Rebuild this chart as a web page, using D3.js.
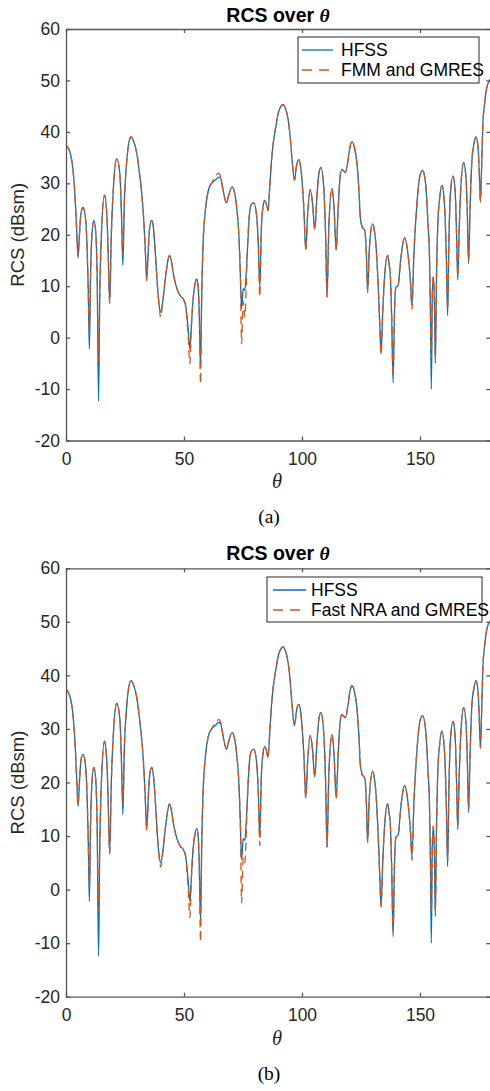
<!DOCTYPE html>
<html lang="en">
<head>
<meta charset="utf-8">
<title>RCS over theta</title>
<style>
body { margin: 0; background: #fff; }
svg { display: block; }
.tick text { font-family: "Liberation Sans", Arial, sans-serif; font-size: 17.5px; fill: #262626; }
</style>
</head>
<body>
<div id="app"></div>
<script src="https://d3js.org/d3.v7.min.js"></script>
<script>
// angle grid (deg)
const theta = [0,1,2,3,4,4.6,5.1,5.7,6.3,7.2,8.2,8.9,9.4,9.9,10.4,11,11.8,12.6,13.2,13.8,14.3,15,16.3,17.3,17.9,18.5,19.2,20.2,21.5,22.8,23.5,24.1,24.7,25.6,26.5,27.5,28.8,30,31,32.1,33,33.6,34.2,34.9,35.5,36.3,37,37.7,38.6,39.4,40.1,41,42,43,43.8,44.6,45.5,46.5,47.6,48.6,49.7,50.7,51.3,51.8,52.5,53.1,53.7,54.5,55.4,56,56.5,57,57.5,58.2,58.9,60.3,61.7,62.8,63.8,64.7,65.5,66.6,68,69,70.4,71.5,72.3,73.3,73.9,74.4,75.1,75.8,76.3,76.8,77.9,78.7,79.6,80.7,81.5,82.1,82.8,83.5,84.2,84.9,85.6,86.3,87,88,88.7,90.1,91,92,92.8,93.6,94.4,95,95.8,96.8,97.7,98.6,99.3,100,100.8,101.6,102.4,103.5,104.5,105.4,106.4,107.2,108,109.2,110,110.6,111.4,112.7,113.6,114.5,115.3,116.2,116.9,117.6,118.4,119.5,120.3,121.2,122.2,123.3,124.2,124.7,125.5,126.6,127.3,127.8,128.5,129.9,130.6,131.4,132.3,133,133.5,134.2,135.2,136.3,137,137.4,138,138.6,139.2,139.8,140.7,141.8,142.6,143.5,144.4,145.2,146,146.6,147.4,148.7,150,151.1,152,152.5,153.4,154,154.4,154.8,155.2,155.6,156.1,156.5,157,157.5,158.3,159.3,160.1,160.7,161.2,161.7,162.3,162.9,164,164.9,165.5,166,166.6,167.4,168.5,169.5,170,170.6,171.2,172,172.8,173.7,174.6,175.2,175.6,176.1,176.6,177.5,178.4,180];

// HFSS reference (dBsm)
const hfss = [37.4,36.8,35.5,32.5,26,20,15.5,20,24,25.3,23.5,18,10,-2.2,12,20,22.8,20.5,12,-12.4,8,20,27.7,24,16,6.7,20,30,34.8,32,24,14,26,33.5,37.5,39,38,35.8,32.5,28,22.5,17,11.1,17.5,21.5,22.8,21.5,17.6,11,6.5,5,7,11.1,14.5,16,15,12.4,10.3,8.8,8,7.5,6.2,4,1.4,-2.2,2,6.6,10,11.4,10,4,-5.8,8,19.5,24,28.6,30,30.5,30.9,31.2,31,28.6,26.2,27.8,29.3,28,25.4,19.5,12,5.6,9.5,9.2,12,16.3,24.7,26,26.2,24,18,9.8,21.5,25.5,26.7,26,24.7,29,34,38.5,40.5,43.9,44.9,45.3,44.8,43.6,41.5,39,34.5,30.6,33.5,34.6,33.6,30.6,25,17.1,24,28.8,26,21,28,32,33.1,29.3,20,7.9,22,29,25,17,25,31.5,32.7,32.4,32.1,34.5,37,38.1,37,33.8,28,23.4,21.5,20.8,16,8.8,17,22.1,21,17.6,10,2,-3.2,5,13,16,14,12.4,4,-8.8,5,9.8,10.1,15,18,19.4,18,15,10.5,6.2,16,26,31.5,32.5,31.2,29.3,22,16.3,6,-10,8,11.8,7,-5,12,21.5,27,29.6,27.5,22.8,15,4.3,20,28,31.4,28.5,20,11.2,21,30,34,31,25,14.4,25,34.5,37.5,39,37,31,26.4,33,41,46,48.8,50.3];

// FMM and GMRES, panel (a)
const fmmGmres = [37.4,36.8,35.5,32.5,26,20,16,20,24,25.3,23.5,18,10,1,12,20,22.8,20.5,12,-4.5,8,20,27.7,24,16,6.7,20,30,34.8,32,24,16,26,33.5,37.5,39,38,35.8,32.5,28,22.5,17,11.1,17.5,21.5,22.8,21.5,17.6,11,6.5,4,7,11.1,14.5,16,15,12.4,10.3,8.8,8,7.5,6.2,3,0,-5.1,2,6.6,10,11.4,10,4,-9,8,19.5,24,28.6,30,31,31.7,32,31.3,28.6,26.2,27.8,29.3,28,25.4,19.5,12,-1.2,7,4,9,16.3,24.7,26,26.2,24,18,7.9,21.5,25.5,26.7,26,24.7,29,34,38.5,40.5,43.9,44.9,45.3,44.8,43.6,41.5,39,34.5,30.6,33.5,34.6,33.6,30.6,25,17.1,24,28.8,26,21,28,32,33.1,29.3,20,7.9,22,29,25,17,25,31.5,32.7,32.4,32.1,34.5,37,38.1,37,33.8,28,23.4,21.5,20.8,16,8.8,17,22.1,21,17.6,10,2,-3.2,5,13,16,14,12.4,4,-7.5,5,9.8,10.1,15,18,19.4,18,15,10.5,5.5,16,26,31.5,32.5,31.2,29.3,22,16.3,6,-4,8,11.8,7,-4,12,21.5,27,29.6,27.5,22.8,15,5.5,20,28,31.4,28.5,20,12,21,30,34,31,25,15,25,34.5,37.5,39,37,31,26.4,33,41,46,48.8,50.3];

// Fast NRA and GMRES, panel (b)
const nraGmres = [37.4,36.8,35.5,32.5,26,20,16,20,24,25.3,23.5,18,10,0.5,12,20,22.8,20.5,12,-4,8,20,27.7,24,16,6.7,20,30,34.8,32,24,16,26,33.5,37.5,39,38,35.8,32.5,28,22.5,17,11.1,17.5,21.5,22.8,21.5,17.6,11,6.5,4.2,7,11.1,14.5,16,15,12.4,10.3,8.8,8,7.5,6.2,3,0,-5.2,2,6.6,10,11.4,10,4,-9.8,8,19.5,24,28.6,30,30.8,31.4,31.8,31.3,28.6,26.2,27.8,29.3,28,25.4,19.5,12,-2.5,6,5,9.5,16.3,24.7,26,26.2,24,18,8.2,21.5,25.5,26.7,26,24.7,29,34,38.5,40.5,43.9,44.9,45.3,44.8,43.6,41.5,39,34.5,30.6,33.5,34.6,33.6,30.6,25,17.1,24,28.8,26,21,28,32,33.1,29.3,20,7.9,22,29,25,17,25,31.5,32.7,32.4,32.1,34.5,37,38.1,37,33.8,28,23.4,21.5,20.8,16,8.8,17,22.1,21,17.6,10,2,-3.2,5,13,16,14,12.4,4,-7.8,5,9.8,10.1,15,18,19.4,18,15,10.5,5.5,16,26,31.5,32.5,31.2,29.3,22,16.3,6,-4,8,11.8,7,-4,12,21.5,27,29.6,27.5,22.8,15,5.5,20,28,31.4,28.5,20,12,21,30,34,31,25,15,25,34.5,37.5,39,37,31,26.4,33,41,46,48.8,50.3];

const xTicks = [0, 50, 100, 150];
const yTicks = [-20, -10, 0, 10, 20, 30, 40, 50, 60];

const blue = "#0072bd", orange = "#d95319", axisCol = "#555";

const svg = d3.select("#app").append("svg")
    .attr("width", 490)
    .attr("height", 1091)
    .attr("viewBox", [0, 0, 490, 1091]);

const panels = [
  {id: "a", top: 29, bottom: 440.5, titleY: 22, xlabY: 488, capY: 523,
   leg: {x: 298, y: 37, w: 181, h: 46, l1: 302, l2: 333, tx: 341, rows: [50, 70]},
   series: fmmGmres, name: "FMM and GMRES"},
  {id: "b", top: 568.3, bottom: 996.7, titleY: 560, xlabY: 1045, capY: 1080,
   leg: {x: 267, y: 577, w: 215, h: 45, l1: 273, l2: 306, tx: 311, rows: [590, 610]},
   series: nraGmres, name: "Fast NRA and GMRES"}
];

const left = 66, right = 490.8;
const plain = d => String(d);   // hyphen-minus like the original

panels.forEach(p => {
  const x = d3.scaleLinear().domain([0, 180]).range([left, right]);
  const y = d3.scaleLinear().domain([-20, 60]).range([p.bottom, p.top]);
  const g = svg.append("g");

  // clip
  g.append("clipPath").attr("id", "clip-" + p.id)
    .append("rect").attr("x", left).attr("y", p.top)
    .attr("width", right - left).attr("height", p.bottom - p.top);

  const line = d3.line()
      .x((d, i) => x(theta[i]))
      .y(d => y(d))
      .curve(d3.curveMonotoneX);

  const plot = g.append("g").attr("clip-path", `url(#clip-${p.id})`);
  plot.append("path")
      .attr("d", line(hfss))
      .attr("fill", "none")
      .attr("stroke", blue)
      .attr("stroke-width", 1.3)
      .attr("stroke-linejoin", "round");
  plot.append("path")
      .attr("d", line(p.series))
      .attr("fill", "none")
      .attr("stroke", orange)
      .attr("stroke-width", 1.3)
      .attr("stroke-dasharray", "8,5");

  // axes (MATLAB box, inward ticks)
  const styleAxis = a => a.call(s => s.selectAll(".domain, line").attr("stroke", axisCol).attr("stroke-width", 1.3));
  g.append("g")
      .attr("transform", `translate(0,${p.bottom})`)
      .call(d3.axisBottom(x).tickValues(xTicks).tickFormat(plain).tickSize(-4).tickSizeOuter(0).tickPadding(11.6))
      .call(styleAxis);
  g.append("g")
      .attr("transform", `translate(0,${p.top})`)
      .call(d3.axisTop(x).tickValues(xTicks).tickSize(-4).tickSizeOuter(0).tickFormat(""))
      .call(styleAxis);
  g.append("g")
      .attr("transform", `translate(${left},0)`)
      .call(d3.axisLeft(y).tickValues(yTicks).tickFormat(plain).tickSize(-4).tickSizeOuter(0).tickPadding(6))
      .call(styleAxis);
  g.append("g")
      .attr("transform", `translate(${right - 0.5},0)`)
      .call(d3.axisRight(y).tickValues(yTicks).tickSize(-4).tickSizeOuter(0).tickFormat(""))
      .call(styleAxis);
  g.selectAll(".tick text").attr("font-family", null).attr("font-size", null);

  // title
  const t = g.append("text")
      .attr("x", 278).attr("y", p.titleY)
      .attr("text-anchor", "middle")
      .attr("font-family", "Liberation Sans, Arial, sans-serif")
      .attr("font-weight", "bold")
      .attr("font-size", 19.5)
      .attr("fill", "#000");
  t.append("tspan").text("RCS over ");
  t.append("tspan").attr("font-family", "Liberation Serif, Times New Roman, serif")
      .attr("font-style", "italic").text("θ");

  // axis labels
  g.append("text")
      .attr("transform", `translate(24,${(p.top + p.bottom) / 2}) rotate(-90)`)
      .attr("text-anchor", "middle")
      .attr("font-family", "Liberation Sans, Arial, sans-serif")
      .attr("font-size", 18.5)
      .attr("fill", "#262626")
      .text("RCS (dBsm)");
  g.append("text")
      .attr("x", 277).attr("y", p.xlabY)
      .attr("text-anchor", "middle")
      .attr("font-family", "Liberation Serif, Times New Roman, serif")
      .attr("font-style", "italic")
      .attr("font-size", 20.5)
      .attr("fill", "#262626")
      .text("θ");
  g.append("text")
      .attr("x", 269).attr("y", p.capY)
      .attr("text-anchor", "middle")
      .attr("font-family", "Liberation Serif, Times New Roman, serif")
      .attr("font-size", 19.5)
      .attr("fill", "#000")
      .text(`(${p.id})`);

  // legend
  const L = p.leg;
  const lg = g.append("g");
  lg.append("rect")
      .attr("x", L.x).attr("y", L.y).attr("width", L.w).attr("height", L.h)
      .attr("fill", "#fff").attr("stroke", "#262626").attr("stroke-width", 1);
  const items = [
    {name: "HFSS", color: blue, dash: null},
    {name: p.name, color: orange, dash: "10,7"}
  ];
  items.forEach((it, i) => {
    lg.append("line")
        .attr("x1", L.l1).attr("x2", L.l2)
        .attr("y1", L.rows[i]).attr("y2", L.rows[i])
        .attr("stroke", it.color).attr("stroke-width", 1.3)
        .attr("stroke-dasharray", it.dash);
    lg.append("text")
        .attr("x", L.tx).attr("y", L.rows[i])
        .attr("dy", "0.36em")
        .attr("font-family", "Liberation Sans, Arial, sans-serif")
        .attr("font-size", 17.5)
        .attr("fill", "#000")
        .text(it.name);
  });
});
</script>
</body>
</html>
